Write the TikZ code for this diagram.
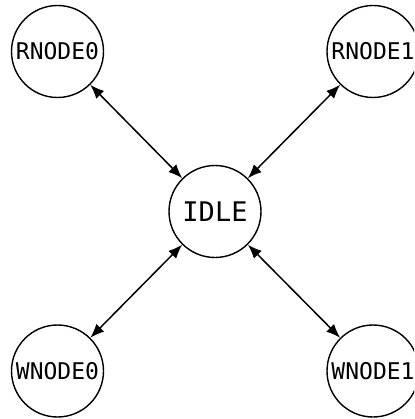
\documentclass[tikz,border=0pt]{standalone}
\usepackage{fontspec}
\newfontfamily\statefont{DejaVu Sans Mono}
\usetikzlibrary{arrows.meta}
\begin{document}
\begin{tikzpicture}[x=1pt,y=-1pt,
  state/.style={circle,draw,line width=1.4pt,minimum size=92pt,inner sep=0pt,
    font=\statefont\fontsize{23}{24}\selectfont},
  hub/.style={state,font=\statefont\fontsize{27}{28}\selectfont},
  link/.style={{Latex[length=14pt,width=11pt]}-{Latex[length=14pt,width=11pt]},line width=1.5pt}]
\useasboundingbox (0,0) rectangle (414,419);
\fill[white] (0,0) rectangle (414,419);
\clip (0,0) rectangle (414,419);
% states
\node[hub]   (idle)   at (215,211.5) {IDLE};
\node[state] (rnode0) at (57.5,51.5) {RNODE0};
\node[state] (rnode1) at (373,51.5)  {RNODE1};
\node[state] (wnode0) at (57.5,371)  {WNODE0};
\node[state] (wnode1) at (373,371)   {WNODE1};
% transitions
\draw[link] (rnode0) -- (idle);
\draw[link] (rnode1) -- (idle);
\draw[link] (wnode0) -- (idle);
\draw[link] (wnode1) -- (idle);
\end{tikzpicture}
\end{document}
